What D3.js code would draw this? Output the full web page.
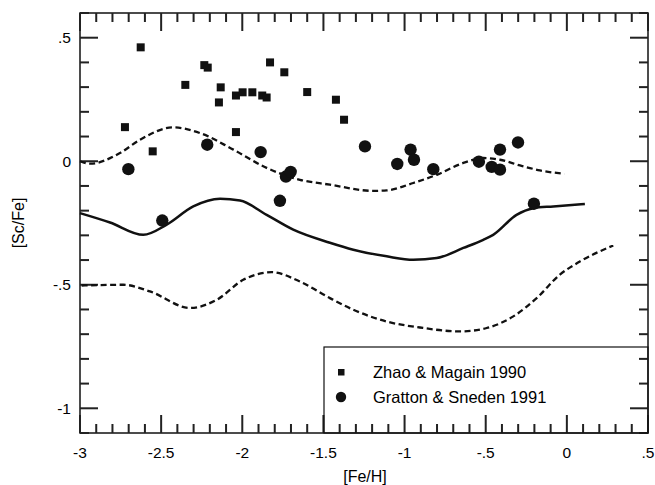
<!DOCTYPE html>
<html>
<head>
<meta charset="utf-8">
<script src="https://cdn.jsdelivr.net/npm/d3@7"></script>
</head>
<body style="margin:0">
<div id="chart"></div>
<script>
// Zhao & Magain 1990 (squares)
var zhaoFe = [-2.626, -2.723, -2.552, -2.351, -2.234, -2.213, -2.133, -2.144, -2.039, -1.998,
              -2.039, -1.938, -1.877, -1.850, -1.829, -1.741, -1.600, -1.423, -1.373];
var zhaoSc = [0.461, 0.138, 0.040, 0.309, 0.389, 0.379, 0.299, 0.238, 0.266, 0.279,
              0.118, 0.279, 0.266, 0.258, 0.400, 0.360, 0.280, 0.249, 0.168];

// Gratton & Sneden 1991 (circles)
var grattonFe = [-2.702, -2.216, -1.887, -1.731, -1.702, -1.768, -2.493, -1.244, -1.045, -0.963,
                 -0.942, -0.823, -0.542, -0.463, -0.412, -0.412, -0.301, -0.203];
var grattonSc = [-0.032, 0.067, 0.037, -0.062, -0.043, -0.160, -0.240, 0.060, -0.011, 0.047,
                 0.006, -0.032, -0.002, -0.023, -0.034, 0.047, 0.076, -0.172];

// model curves
var upperFe = [-3.0, -2.938, -2.754, -2.63, -2.425, -2.261, -2.055, -1.85, -1.645, -1.46, -1.193,
               -1.11, -0.946, -0.802, -0.638, -0.515, -0.412, -0.289, -0.166, -0.016];
var upperSc = [0.0, -0.01, 0.033, 0.087, 0.137, 0.114, 0.047, -0.027, -0.075, -0.095, -0.12,
               -0.118, -0.088, -0.055, -0.007, 0.013, 0.006, -0.017, -0.037, -0.051];

var midFe = [-3.0, -2.815, -2.61, -2.466, -2.302, -2.137, -2.014, -1.85, -1.686, -1.46, -1.316,
             -1.11, -0.946, -0.802, -0.638, -0.515, -0.454, -0.31, -0.207, -0.084, 0.111];
var midSc = [-0.21, -0.248, -0.298, -0.257, -0.183, -0.152, -0.159, -0.217, -0.277, -0.33, -0.358,
             -0.385, -0.399, -0.392, -0.351, -0.318, -0.298, -0.217, -0.19, -0.183, -0.173];

var lowerFe = [-2.99, -2.733, -2.569, -2.322, -2.158, -1.994, -1.819, -1.645, -1.46, -1.316,
               -1.11, -0.905, -0.659, -0.494, -0.33, -0.186, -0.043, 0.08, 0.286];
var lowerSc = [-0.503, -0.5, -0.527, -0.594, -0.561, -0.48, -0.449, -0.487, -0.554, -0.601,
               -0.649, -0.673, -0.689, -0.675, -0.628, -0.554, -0.459, -0.406, -0.341];

var xTicks = [-3, -2.5, -2, -1.5, -1, -0.5, 0, 0.5];
var xTickLabels = ["-3", "-2.5", "-2", "-1.5", "-1", "-.5", "0", ".5"];
var yTicks = [0.5, 0, -0.5, -1];
var yTickLabels = [".5", "0", "-.5", "-1"];
var legendLabels = ["Zhao & Magain 1990", "Gratton & Sneden 1991"];

var font = '"Liberation Sans", Arial, Helvetica, sans-serif';
var pw = 568, ph = 420;   // plot box size

var svg = d3.select("#chart")
  .append("svg")
    .attr("width", 655)
    .attr("height", 485)
  .append("g")
    .attr("transform", "translate(80,13)");

var x = d3.scaleLinear().domain([-3, 0.5]).range([0, pw]);
var y = d3.scaleLinear().domain([-1.1, 0.6]).range([ph, 0]);

function pairs(a, b) { return a.map(function(v, i) { return [v, b[i]]; }); }

// frame
svg.append("rect")
  .attr("x", 0).attr("y", 0)
  .attr("width", pw).attr("height", ph)
  .attr("fill", "none").attr("stroke", "#111").attr("stroke-width", 1.5);

// inward ticks on all four sides: majors every .5, minors every .1
var xm = x.ticks(35);
var ym = y.ticks(17);
function len(v) { return Math.abs(v * 2 - Math.round(v * 2)) < 1e-6 ? 18 : 9; }
var tw = 2;

svg.selectAll(".tb").data(xm).enter().append("rect")
  .attr("x", function(d) { return x(d) - tw / 2; })
  .attr("y", function(d) { return ph - len(d); })
  .attr("width", tw).attr("height", function(d) { return len(d); })
  .attr("fill", "#222");
svg.selectAll(".tt").data(xm).enter().append("rect")
  .attr("x", function(d) { return x(d) - tw / 2; })
  .attr("y", 0)
  .attr("width", tw).attr("height", function(d) { return len(d); })
  .attr("fill", "#222");
svg.selectAll(".tl").data(ym).enter().append("rect")
  .attr("x", 0)
  .attr("y", function(d) { return y(d) - tw / 2; })
  .attr("width", function(d) { return len(d); }).attr("height", tw)
  .attr("fill", "#222");
svg.selectAll(".tr").data(ym).enter().append("rect")
  .attr("x", function(d) { return pw - len(d); })
  .attr("y", function(d) { return y(d) - tw / 2; })
  .attr("width", function(d) { return len(d); }).attr("height", tw)
  .attr("fill", "#222");

// tick labels
svg.selectAll(".xlab").data(xTicks).enter().append("text")
  .attr("x", function(d) { return x(d); })
  .attr("y", ph + 25)
  .attr("text-anchor", "middle")
  .attr("font-family", font).attr("font-size", 15.5)
  .text(function(d, i) { return xTickLabels[i]; });

svg.selectAll(".ylab").data(yTicks).enter().append("text")
  .attr("x", -9)
  .attr("y", function(d) { return y(d) + 5.5; })
  .attr("text-anchor", "end")
  .attr("font-family", font).attr("font-size", 15.5)
  .text(function(d, i) { return yTickLabels[i]; });

// axis titles
svg.append("text")
  .attr("x", pw / 2 + 1)
  .attr("y", ph + 49)
  .attr("text-anchor", "middle")
  .attr("font-family", font).attr("font-size", 16)
  .text("[Fe/H]");

svg.append("text")
  .attr("transform", "rotate(-90)")
  .attr("x", -y(-0.25))
  .attr("y", -56)
  .attr("text-anchor", "middle")
  .attr("font-family", font).attr("font-size", 16)
  .text("[Sc/Fe]");

// curves
var line = d3.line()
  .x(function(d) { return x(d[0]); })
  .y(function(d) { return y(d[1]); })
  .curve(d3.curveMonotoneX);

svg.append("path")
  .datum(pairs(upperFe, upperSc))
  .attr("d", line)
  .attr("fill", "none").attr("stroke", "#111").attr("stroke-width", 2.3)
  .attr("stroke-dasharray", "6,3.5");

svg.append("path")
  .datum(pairs(midFe, midSc))
  .attr("d", line)
  .attr("fill", "none").attr("stroke", "#111").attr("stroke-width", 2.5);

svg.append("path")
  .datum(pairs(lowerFe, lowerSc))
  .attr("d", line)
  .attr("fill", "none").attr("stroke", "#111").attr("stroke-width", 2.3)
  .attr("stroke-dasharray", "6,3.5");

// points
var sq = 8;
svg.selectAll(".sq").data(pairs(zhaoFe, zhaoSc)).enter().append("rect")
  .attr("x", function(d) { return x(d[0]) - sq / 2; })
  .attr("y", function(d) { return y(d[1]) - sq / 2; })
  .attr("width", sq).attr("height", sq)
  .attr("fill", "#111");

svg.selectAll(".ci").data(pairs(grattonFe, grattonSc)).enter().append("circle")
  .attr("cx", function(d) { return x(d[0]); })
  .attr("cy", function(d) { return y(d[1]); })
  .attr("r", 6.2)
  .attr("fill", "#111");

// legend box
svg.append("rect")
  .attr("x", 244).attr("y", 334)
  .attr("width", pw - 244).attr("height", ph - 334)
  .attr("fill", "none").attr("stroke", "#111").attr("stroke-width", 1.2);

svg.append("rect")
  .attr("x", 258).attr("y", 356)
  .attr("width", 6.5).attr("height", 6.5).attr("fill", "#111");
svg.append("circle")
  .attr("cx", 261).attr("cy", 384)
  .attr("r", 5.2).attr("fill", "#111");

svg.selectAll(".leg").data(legendLabels).enter().append("text")
  .attr("x", 293)
  .attr("y", function(d, i) { return 365 + i * 25; })
  .attr("font-family", font).attr("font-size", 16.5)
  .text(function(d) { return d; });
</script>
</body>
</html>
